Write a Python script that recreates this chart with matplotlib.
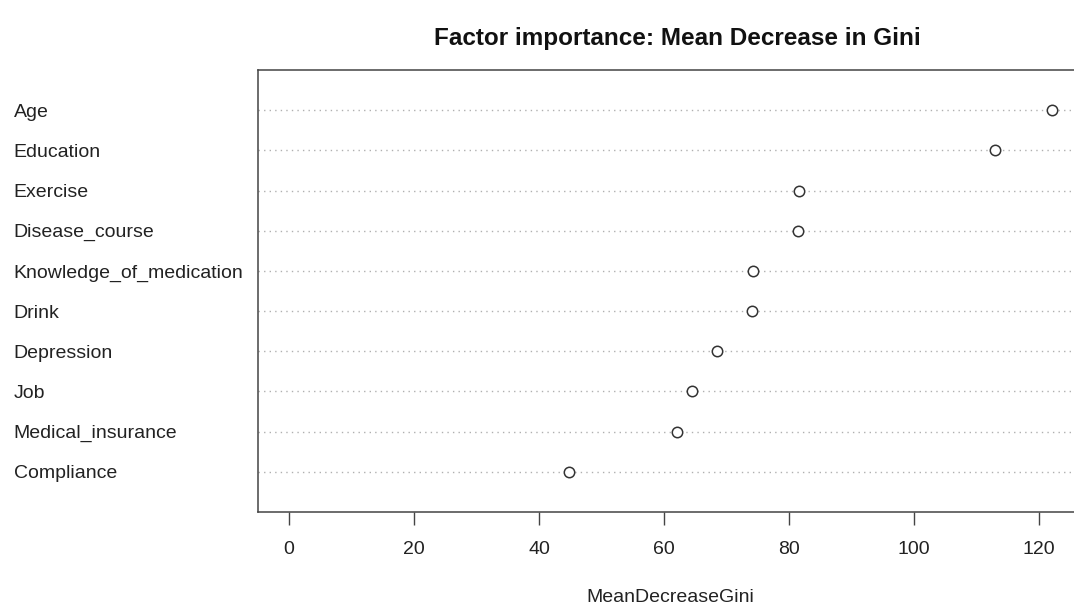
import matplotlib
matplotlib.use('Agg')
import matplotlib.pyplot as plt
import numpy as np

plt.rcParams['font.family'] = ['Liberation Sans', 'DejaVu Sans']

# variables from bottom (rank 1) to top
factors = ['Compliance', 'Medical_insurance', 'Job', 'Depression', 'Drink',
           'Knowledge_of_medication', 'Disease_course', 'Exercise', 'Education', 'Age']
gini = [44.8, 62.1, 64.5, 68.5, 74.0, 74.2, 81.4, 81.5, 112.9, 122.1]
xticks = [0, 20, 40, 60, 80, 100, 120]

fig = plt.figure(figsize=(10.74, 6.11), dpi=100)
ax = fig.add_axes([258 / 1074, 99 / 611, 825 / 1074, 442 / 611])

ypos = np.arange(1, len(factors) + 1)
for y in ypos:
    ax.axhline(y, color='#b0b0b0', linestyle=(0, (1, 3)), linewidth=1.0, zorder=1)
ax.plot(gini, ypos, linestyle='none', marker='o', markersize=7.5,
        markerfacecolor='white', markeredgecolor='#333333', markeredgewidth=1.1, zorder=3)

ax.set_xlim(-4.96, 127.0)
ax.set_ylim(0, 11)

ax.set_xticks(xticks)
ax.set_xticklabels([str(t) for t in xticks])
ax.tick_params(axis='x', length=9, width=1, color='#444444', pad=12,
               labelsize=14, labelcolor='#222222')

ax.set_yticks(ypos)
ax.set_yticklabels(factors)
ax.tick_params(axis='y', length=0, pad=176, labelsize=14, labelcolor='#222222')
for lab in ax.get_yticklabels():
    lab.set_horizontalalignment('left')

for s in ax.spines.values():
    s.set_color('#444444')
    s.set_linewidth(1.1)

fig.text(677 / 1074, 1 - 39 / 611, 'Factor importance: Mean Decrease in Gini',
         ha='center', va='center', fontsize=17.5, fontweight='bold', color='#111111')
fig.text(670 / 1074, 1 - 597 / 611, 'MeanDecreaseGini',
         ha='center', va='center', fontsize=14, color='#222222')

fig.savefig('out.png', dpi=100)
